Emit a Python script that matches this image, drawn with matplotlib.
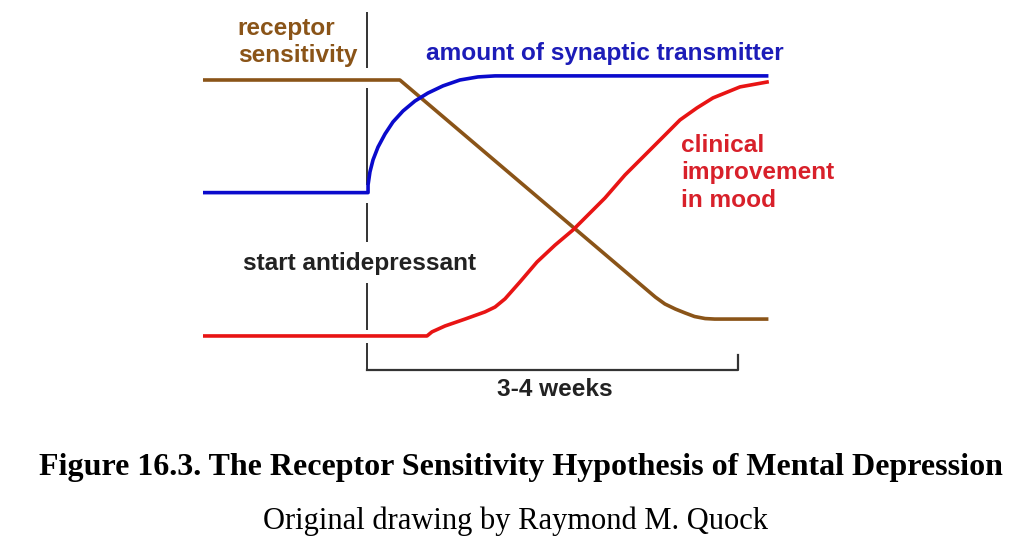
import matplotlib.pyplot as plt
import numpy as np

# time in weeks after starting the antidepressant, level in relative units
brown_t = [-1.53, 0.31, 2.72, 2.81, 2.91, 3.0, 3.09, 3.19, 3.28, 3.77]
brown_y = [1.0, 1.0, 0.152, 0.125, 0.105, 0.090, 0.076, 0.068, 0.066, 0.066]

blue_t = [-1.53, 0.01, 0.01, 0.028, 0.057, 0.104, 0.17, 0.245, 0.34, 0.453, 0.575,
          0.717, 0.877, 1.047, 1.208, 3.77]
blue_y = [0.56, 0.56, 0.59, 0.641, 0.688, 0.738, 0.789, 0.836, 0.879, 0.918, 0.949,
          0.977, 1.0, 1.012, 1.016, 1.016]

red_t = [-1.53, 0.566, 0.613, 0.736, 0.925, 1.113, 1.208, 1.302, 1.443, 1.604, 1.774,
         1.943, 2.245, 2.434, 2.642, 2.811, 2.953, 3.113, 3.264, 3.519, 3.774]
red_y = [0.0, 0.0, 0.016, 0.039, 0.066, 0.094, 0.113, 0.145, 0.211, 0.289, 0.355,
         0.414, 0.539, 0.629, 0.715, 0.785, 0.844, 0.891, 0.930, 0.973, 0.992]

# broken marker line at t = 0
start_lo = [1.047, 0.59, 0.367, 0.023, -0.133]
start_hi = [1.266, 0.969, 0.52, 0.207, -0.027]
weeks_end = 3.5

brown = '#8a5418'
blue = '#0a0acc'
red = '#e81414'

fig = plt.figure(figsize=(10.24, 5.52), dpi=100)
ax = fig.add_axes([0, 0, 1, 1])
ax.set_xlim(-3.462, 6.198)
ax.set_ylim(-0.844, 1.3125)
ax.axis('off')

ax.vlines(np.zeros(len(start_lo)), start_lo, start_hi, color='#333333', lw=1.4)
ax.plot([0, weeks_end, weeks_end], [-0.133, -0.133, -0.074], color='#333333', lw=1.6)

ax.plot(brown_t, brown_y, color=brown, lw=2.6, solid_joinstyle='round')
ax.plot(blue_t, blue_y, color=blue, lw=2.6, solid_joinstyle='round')
ax.plot(red_t, red_y, color=red, lw=2.6, solid_joinstyle='round')

sans = dict(family='Liberation Sans', weight='bold', fontsize=17.6)
ax.text(-1.22, 1.148, 'receptor\nsensitivity', color=brown, ha='left', va='center',
        linespacing=1.22, **sans)
ax.text(2.245, 1.105, 'amount of synaptic transmitter', color='#1c1cb8', ha='center',
        va='center', **sans)
ax.text(2.96, 0.637, 'clinical\nimprovement\nin mood', color='#d8202a', ha='left',
        va='center', linespacing=1.27, **sans)
ax.text(-0.066, 0.282, 'start antidepressant', color='#222222', ha='center',
        va='center', **sans)
ax.text(1.774, -0.21, '3-4 weeks', color='#222222', ha='center', va='center', **sans)

fig.text(0.509, 1 - 468 / 552, 'Figure 16.3. The Receptor Sensitivity Hypothesis of Mental Depression',
         family='Liberation Serif', weight='bold', fontsize=23, ha='center', va='center')
fig.text(0.503, 1 - 521 / 552, 'Original drawing by Raymond M. Quock',
         family='Liberation Serif', fontsize=22, ha='center', va='center')

fig.savefig('out.png', dpi=100, facecolor='white')
